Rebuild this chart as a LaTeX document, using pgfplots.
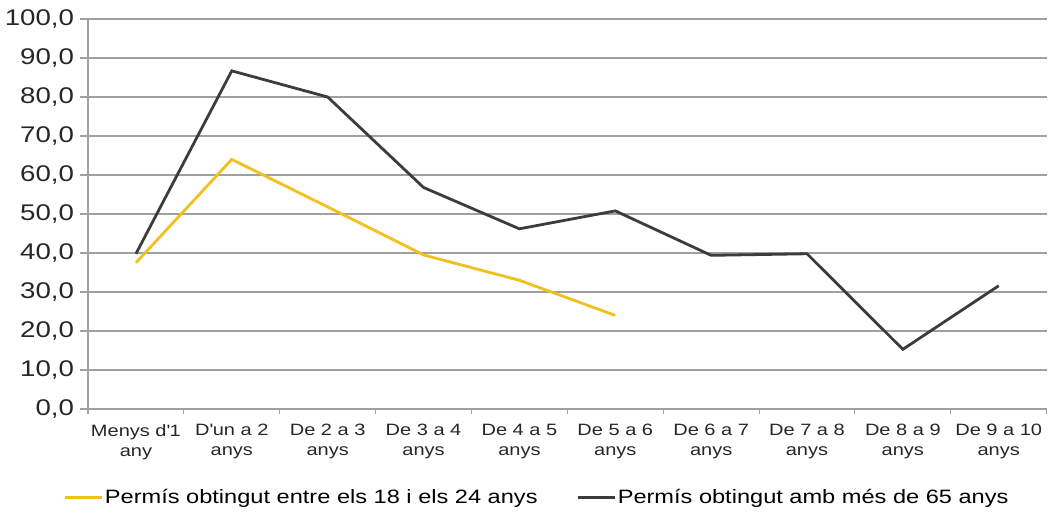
\documentclass[border=0pt]{standalone}
\usepackage{fontspec}
\setmainfont[FakeStretch=1.22]{Liberation Sans}
\usepackage{pgfplots}
\pgfplotsset{compat=1.18}
\definecolor{ylw}{RGB}{242,192,30}
\definecolor{drk}{RGB}{60,60,60}
\definecolor{grd}{RGB}{160,160,160}
\begin{document}
\begin{tikzpicture}
\path[use as bounding box] (-66pt,-80.25pt) rectangle (720.75pt,306.75pt);
\begin{axis}[
  at={(0,0)}, anchor=south west,
  scale only axis, width=719pt, height=292.5pt,
  xmin=-0.5, xmax=9.5, ymin=0, ymax=100,
  axis x line*=bottom, axis y line*=left,
  axis line style={grd, line width=0.8pt},
  ytick={0,10,...,100},
  ymajorgrids, grid style={grd, line width=0.8pt},
  y tick style={grd, line width=0.8pt},
  major tick length=6pt,
  tick align=outside,
  /pgf/number format/.cd, fixed, fixed zerofill, precision=1, use comma, assume math mode=true,
  /pgfplots/.cd,
  yticklabel style={font=\fontsize{17}{19}\selectfont, color=black!85, xshift=-1pt},
  xtick={0,...,9},
  x tick style={draw=none},
  xticklabels={{Menys d\textquotesingle 1\\any},{D\textquotesingle un a 2\\anys},{De 2 a 3\\anys},{De 3 a 4\\anys},{De 4 a 5\\anys},{De 5 a 6\\anys},{De 6 a 7\\anys},{De 7 a 8\\anys},{De 8 a 9\\anys},{De 9 a 10\\anys}},
  xticklabel style={font=\fontsize{12.3}{15}\selectfont, align=center, color=black!85, yshift=-2pt},
  extra x ticks={-0.5,0.5,...,9.5},
  extra x tick labels={},
  extra x tick style={x tick style={grd, line width=0.8pt, draw=grd}, major tick length=4pt},
  legend style={draw=none, at={(axis description cs:0.468,-0.226)}, anchor=center,
    legend columns=2, font=\fontsize{14.5}{16}\selectfont, inner sep=0pt,
    nodes={inner xsep=1pt},
    /tikz/every even column/.append style={column sep=28pt}},
  legend image code/.code={\draw[#1] (0pt,0pt) -- (28pt,0pt);},
  legend cell align=left,
]
\addplot[ylw, line width=2.1pt] coordinates {(0,37.5) (1,64.0) (2,51.8) (3,39.5) (4,33.0) (5,24.0)};
\addlegendentry{Permís obtingut entre els 18 i els 24 anys}
\addplot[drk, line width=2.1pt] coordinates {(0,39.8) (1,86.7) (2,80.0) (3,56.8) (4,46.2) (5,50.8) (6,39.4) (7,39.8) (8,15.3) (9,31.6)};
\addlegendentry{Permís obtingut amb més de 65 anys}
\end{axis}
\end{tikzpicture}
\end{document}
